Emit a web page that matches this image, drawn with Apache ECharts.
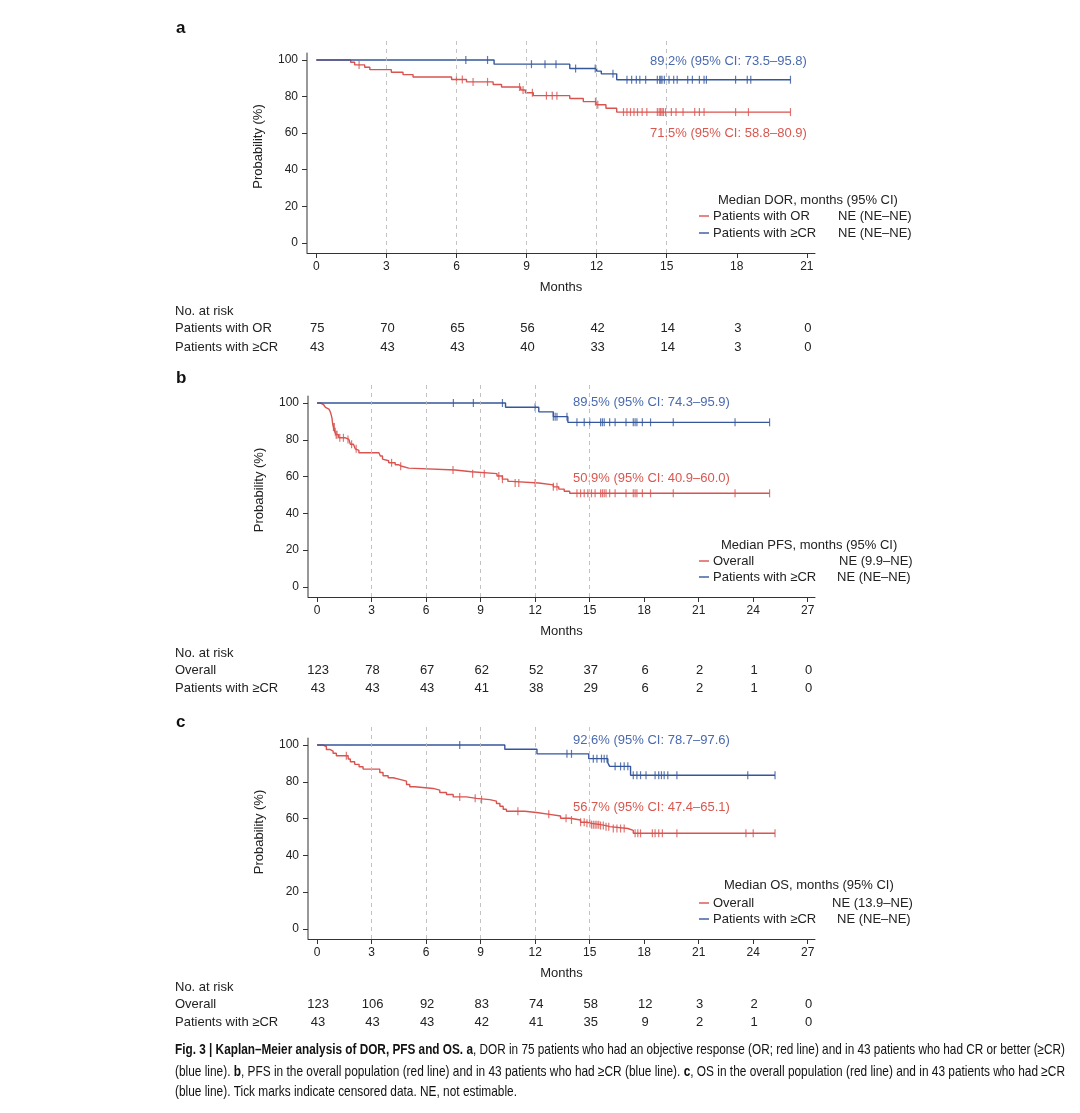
<!DOCTYPE html>
<html><head><meta charset="utf-8">
<script src="https://cdn.jsdelivr.net/npm/echarts@6/dist/echarts.min.js"></script>
<style>html,body{margin:0;padding:0;background:#fff}#c{width:1080px;height:1113px}</style>
</head><body><div id="c"></div>
<script>
// ---------------- DATA ----------------
const probTicks = [0, 20, 40, 60, 80, 100];
const monthsA = [0, 3, 6, 9, 12, 15, 18, 21];
const monthsBC = [0, 3, 6, 9, 12, 15, 18, 21, 24, 27];
const dashedMonths = [3, 6, 9, 12, 15];

// Panel a: DOR
const aRedT = [0, 1.47, 1.64, 2.07, 2.29, 3.21, 3.71, 4.14, 5.79, 6.43, 7.57, 7.93, 8.75, 8.95, 9.29, 10.85, 11.43, 11.98, 12.4, 12.86, 20.3];
const aRedS = [100, 98.7, 97.3, 96.0, 94.7, 93.3, 92.0, 90.7, 89.3, 88.0, 86.6, 85.2, 83.6, 82.1, 80.5, 78.9, 77.2, 75.5, 73.6, 71.5, 71.5];
const aRedCens = [1.83, 6.0, 6.25, 6.71, 7.33, 8.7, 8.85, 9.25, 9.85, 10.1, 10.3, 11.95, 12.05, 13.15, 13.3, 13.45, 13.6, 13.75, 13.95, 14.15, 14.6, 14.68, 14.74, 14.8, 14.86, 14.95, 15.2, 15.4, 15.7, 16.2, 16.4, 16.6, 17.95, 18.5, 20.3];
const aBlueT = [0, 7.61, 10.85, 12.0, 12.2, 12.86, 20.3];
const aBlueS = [100, 97.7, 95.3, 93.9, 92.4, 89.2, 89.2];
const aBlueCens = [6.4, 7.33, 9.21, 9.79, 10.26, 11.1, 11.94, 12.7, 13.3, 13.5, 13.7, 13.85, 14.1, 14.6, 14.7, 14.75, 14.8, 14.9, 15.1, 15.3, 15.45, 15.9, 16.1, 16.4, 16.6, 16.7, 17.95, 18.45, 18.6, 20.3];
const aRiskOR = [75, 70, 65, 56, 42, 14, 3, 0];
const aRiskCR = [43, 43, 43, 40, 33, 14, 3, 0];

// Panel b: PFS
const bRedT = [0, 0.2, 0.35, 0.46, 0.55, 0.65, 0.73, 0.78, 0.82, 0.84, 0.86, 0.9, 0.97, 1.05, 1.19, 1.56, 1.75, 1.83, 2.0, 2.1, 2.2, 2.3, 3.4, 3.48, 3.6, 3.66, 3.94, 4.3, 4.5, 4.67, 5.04, 7.6, 8.5, 9.9, 10.2, 10.5, 10.7, 12.2, 13.0, 13.3, 13.6, 13.9, 24.9];
const bRedS = [100, 99.2, 98.4, 97.6, 96.7, 95.9, 95.1, 93.4, 91.8, 90.1, 88.5, 86.9, 84.4, 82.8, 81.1, 80.2, 79.3, 77.6, 76.8, 75.1, 74.3, 73.0, 72.1, 71.2, 69.5, 68.6, 67.5, 66.4, 65.6, 64.6, 63.6, 62.6, 61.6, 60.3, 58.6, 57.4, 56.5, 55.5, 54.4, 53.2, 52.0, 50.9, 50.9];
const bRedCens = [0.9, 0.95, 1.0, 1.05, 1.1, 1.25, 1.45, 1.7, 1.9, 2.15, 4.1, 4.6, 7.48, 8.56, 9.2, 10.0, 10.2, 10.9, 11.1, 12.0, 13.0, 13.2, 14.3, 14.5, 14.7, 14.9, 15.1, 15.3, 15.6, 15.7, 15.8, 15.9, 16.1, 16.4, 17.0, 17.4, 17.5, 17.6, 17.9, 18.35, 19.6, 23.0, 24.9];
const bBlueT = [0, 10.37, 12.2, 13.0, 13.8, 24.9];
const bBlueS = [100, 97.7, 95.2, 92.6, 89.5, 89.5];
const bBlueCens = [7.5, 8.6, 10.2, 12.0, 13.0, 13.1, 13.2, 13.75, 14.3, 14.7, 15.0, 15.6, 15.7, 15.8, 16.1, 16.4, 17.0, 17.4, 17.5, 17.6, 17.9, 18.35, 19.6, 23.0, 24.9];
const bRiskAll = [123, 78, 67, 62, 52, 37, 6, 2, 1, 0];
const bRiskCR = [43, 43, 43, 41, 38, 29, 6, 2, 1, 0];

// Panel c: OS
const cRedT = [0, 0.33, 0.51, 0.7, 0.88, 1.06, 1.71, 1.83, 2.07, 2.31, 2.53, 3.45, 3.63, 3.91, 4.18, 4.55, 4.92, 5.1, 5.38, 6.39, 6.75, 7.12, 7.49, 8.22, 8.77, 9.5, 9.87, 10.06, 10.24, 10.42, 11.43, 12.07, 12.8, 13.4, 13.9, 14.5, 14.85, 15.1, 15.6, 15.9, 16.1, 17.1, 17.4, 25.2];
const cRedS = [100, 99.2, 97.6, 96.7, 95.5, 94.2, 92.4, 90.9, 89.5, 88.2, 86.9, 85.1, 83.3, 82.2, 81.3, 80.4, 78.5, 77.3, 76.4, 75.5, 74.2, 73.1, 71.8, 71.0, 70.3, 69.5, 68.2, 66.7, 65.1, 64.0, 63.3, 62.3, 61.4, 60.2, 59.2, 58.0, 57.4, 56.7, 56.2, 55.6, 54.6, 53.6, 52.0, 52.0];
const cRedCens = [1.61, 7.85, 8.7, 9.05, 11.05, 12.75, 13.7, 14.0, 14.5, 14.7, 14.85, 15.0, 15.1, 15.2, 15.3, 15.4, 15.5, 15.6, 15.75, 15.9, 16.05, 16.3, 16.5, 16.7, 16.9, 17.5, 17.65, 17.8, 18.45, 18.6, 18.8, 19.0, 19.8, 23.6, 24.0, 25.2];
const cBlueT = [0, 10.33, 12.1, 14.95, 16.0, 16.1, 17.25, 25.2];
const cBlueS = [100, 97.7, 95.2, 92.6, 90.3, 88.4, 83.6, 83.6];
const cBlueCens = [7.85, 13.75, 14.0, 15.2, 15.4, 15.65, 15.8, 15.95, 16.4, 16.7, 16.9, 17.1, 17.4, 17.6, 17.8, 18.1, 18.6, 18.8, 18.95, 19.1, 19.3, 19.8, 23.7, 25.2];
const cRiskAll = [123, 106, 92, 83, 74, 58, 12, 3, 2, 0];
const cRiskCR = [43, 43, 43, 42, 41, 35, 9, 2, 1, 0];

// ---------------- STYLE / LAYOUT ----------------
const FONT = '"Liberation Sans", Arial, sans-serif';
const RED = '#d9534f', BLUE = '#34579c';
const RED_TXT = '#d9574f', BLUE_TXT = '#4a6aae';
const AX = '#333', TXT = '#222';

const panels = [
  { grid: {left: 307, top: 40, width: 508, height: 213}, xMin: -0.4, xMax: 21.35, months: monthsA,
    redT: aRedT, redS: aRedS, redC: aRedCens, blueT: aBlueT, blueS: aBlueS, blueC: aBlueCens,
    risk: [aRiskOR, aRiskCR], riskNames: ['Patients with OR', 'Patients with ≥CR'], riskY: [311, 328, 347],
    letter: 'a', letterY: 28,
    ann: [{t: '89.2% (95% CI: 73.5–95.8)', x: 650, y: 61, c: BLUE_TXT}, {t: '71.5% (95% CI: 58.8–80.9)', x: 650, y: 133, c: RED_TXT}],
    leg: {title: 'Median DOR, months (95% CI)', tx: 718, ty: 200, rows: [['Patients with OR', 'NE (NE–NE)', 838, 216, RED], ['Patients with ≥CR', 'NE (NE–NE)', 838, 233, BLUE]]} },
  { grid: {left: 308, top: 383, width: 507, height: 214}, xMin: -0.5, xMax: 27.4, months: monthsBC,
    redT: bRedT, redS: bRedS, redC: bRedCens, blueT: bBlueT, blueS: bBlueS, blueC: bBlueCens,
    risk: [bRiskAll, bRiskCR], riskNames: ['Overall', 'Patients with ≥CR'], riskY: [653, 670, 688],
    letter: 'b', letterY: 378,
    ann: [{t: '89.5% (95% CI: 74.3–95.9)', x: 573, y: 402, c: BLUE_TXT}, {t: '50.9% (95% CI: 40.9–60.0)', x: 573, y: 478, c: RED_TXT}],
    leg: {title: 'Median PFS, months (95% CI)', tx: 721, ty: 545, rows: [['Overall', 'NE (9.9–NE)', 839, 561, RED], ['Patients with ≥CR', 'NE (NE–NE)', 837, 577, BLUE]]} },
  { grid: {left: 308, top: 725, width: 507, height: 214}, xMin: -0.5, xMax: 27.4, months: monthsBC,
    redT: cRedT, redS: cRedS, redC: cRedCens, blueT: cBlueT, blueS: cBlueS, blueC: cBlueCens,
    risk: [cRiskAll, cRiskCR], riskNames: ['Overall', 'Patients with ≥CR'], riskY: [987, 1004, 1022],
    letter: 'c', letterY: 722,
    ann: [{t: '92.6% (95% CI: 78.7–97.6)', x: 573, y: 740, c: BLUE_TXT}, {t: '56.7% (95% CI: 47.4–65.1)', x: 573, y: 807, c: RED_TXT}],
    leg: {title: 'Median OS, months (95% CI)', tx: 724, ty: 885, rows: [['Overall', 'NE (13.9–NE)', 832, 903, RED], ['Patients with ≥CR', 'NE (NE–NE)', 837, 919, BLUE]]} }
];
const Y_MIN = -5.5, Y_MAX = 110.9, Y_AXIS_TOP = 104;

function survAt(T, S, t) {
  let v = S[0];
  for (let i = 0; i < T.length; i++) { if (T[i] <= t + 1e-9) v = S[i]; else break; }
  return v;
}

const chart = echarts.init(document.getElementById('c'), null, {renderer: 'canvas'});
const grids = [], xAxes = [], yAxes = [], series = [];
panels.forEach((p, i) => {
  grids.push(Object.assign({containLabel: false}, p.grid));
  xAxes.push({
    type: 'value', gridIndex: i, min: p.xMin, max: p.xMax, position: 'bottom',
    axisLine: {show: true, onZero: false, lineStyle: {color: AX, width: 1}},
    axisTick: {show: true, customValues: p.months, length: 5, lineStyle: {color: AX}},
    axisLabel: {customValues: p.months, margin: 8, fontSize: 12, color: TXT, fontFamily: FONT},
    splitLine: {show: false},
    name: 'Months', nameLocation: 'middle', nameGap: 28,
    nameTextStyle: {fontSize: 13, color: TXT, fontFamily: FONT}
  });
  yAxes.push({
    type: 'value', gridIndex: i, min: Y_MIN, max: Y_MAX, position: 'left',
    axisLine: {show: false, onZero: false},
    axisTick: {show: true, customValues: probTicks, length: 5, lineStyle: {color: AX}},
    axisLabel: {customValues: probTicks, margin: 9, fontSize: 12, color: TXT, fontFamily: FONT},
    splitLine: {show: false},
    name: 'Probability (%)', nameLocation: 'middle', nameGap: 42, nameRotate: 90,
    nameTextStyle: {fontSize: 13, color: TXT, fontFamily: FONT}
  });
  const mk = (T, S) => T.map((t, k) => [t, S[k]]);
  series.push({
    type: 'line', xAxisIndex: i, yAxisIndex: i, step: 'end', data: mk(p.redT, p.redS),
    showSymbol: false, lineStyle: {color: RED, width: 1.4}, itemStyle: {color: RED}, animation: false, silent: true,
    markLine: {silent: true, symbol: 'none', label: {show: false}, animation: false,
      lineStyle: {type: [4, 4], color: '#bdbdbd', width: 0.9},
      data: dashedMonths.map(m => ({xAxis: m}))}
  });
  series.push({
    type: 'scatter', xAxisIndex: i, yAxisIndex: i, data: p.redC.map(t => [t, survAt(p.redT, p.redS, t)]),
    symbol: 'rect', symbolSize: [1.2, 8], itemStyle: {color: RED}, animation: false, silent: true
  });
  series.push({
    type: 'line', xAxisIndex: i, yAxisIndex: i, step: 'end', data: mk(p.blueT, p.blueS),
    showSymbol: false, lineStyle: {color: BLUE, width: 1.4}, itemStyle: {color: BLUE}, animation: false, silent: true
  });
  series.push({
    type: 'scatter', xAxisIndex: i, yAxisIndex: i, data: p.blueC.map(t => [t, survAt(p.blueT, p.blueS, t)]),
    symbol: 'rect', symbolSize: [1.2, 8], itemStyle: {color: BLUE}, animation: false, silent: true
  });
});

chart.setOption({animation: false, backgroundColor: '#fff', grid: grids, xAxis: xAxes, yAxis: yAxes, series: series});

// ---------------- GRAPHICS (text, legends, risk tables, caption) ----------------
const G = [];
function txt(t, x, y, o) {
  o = o || {};
  G.push({type: 'text', x: x, y: y, silent: true, style: {
    text: t, fill: o.color || TXT, font: (o.bold ? 'bold ' : '') + (o.size || 13) + 'px ' + FONT,
    align: o.align || 'left', verticalAlign: 'middle'}});
}
panels.forEach((p, i) => {
  txt(p.letter, 176, p.letterY, {bold: true, size: 17, color: '#111'});
  // y axis line
  const x0 = chart.convertToPixel({xAxisIndex: i}, p.xMin);
  const yb = chart.convertToPixel({yAxisIndex: i}, Y_MIN);
  const yt = chart.convertToPixel({yAxisIndex: i}, Y_AXIS_TOP);
  G.push({type: 'line', silent: true, shape: {x1: x0, y1: yb, x2: x0, y2: yt}, style: {stroke: AX, lineWidth: 1}});
  // annotations
  p.ann.forEach(a => txt(a.t, a.x, a.y, {color: a.c}));
  // legend
  txt(p.leg.title, p.leg.tx, p.leg.ty);
  p.leg.rows.forEach(r => {
    G.push({type: 'line', silent: true, shape: {x1: 699, y1: r[3], x2: 709, y2: r[3]}, style: {stroke: r[4], lineWidth: 1.4}});
    txt(r[0], 713, r[3]);
    txt(r[1], r[2], r[3]);
  });
  // risk table
  txt('No. at risk', 175, p.riskY[0]);
  p.risk.forEach((row, k) => {
    txt(p.riskNames[k], 175, p.riskY[k + 1]);
    row.forEach((v, j) => {
      const px = chart.convertToPixel({xAxisIndex: i}, p.months[j]);
      txt(String(v), px + 1, p.riskY[k + 1], {align: 'center'});
    });
  });
});

// caption
const captionLines = [
  [['Fig. 3 | Kaplan–Meier analysis of DOR, PFS and OS. ', 1], ['a', 1], [', DOR in 75 patients who had an objective response (OR; red line) and in 43 patients who had CR or better (≥CR)', 0]],
  [['(blue line). ', 0], ['b', 1], [', PFS in the overall population (red line) and in 43 patients who had ≥CR (blue line). ', 0], ['c', 1], [', OS in the overall population (red line) and in 43 patients who had ≥CR', 0]],
  [['(blue line). Tick marks indicate censored data. NE, not estimable.', 0]]
];
const capY = [1050, 1072, 1092];
const CAP_SIZE = 14.5;
const ctx = document.createElement('canvas').getContext('2d');
function meas(t, b) { ctx.font = (b ? 'bold ' : '') + CAP_SIZE + 'px "Liberation Sans"'; return ctx.measureText(t).width; }
const widths = captionLines.map(l => l.reduce((s, seg) => s + meas(seg[0], seg[1]), 0));
const scales = [890 / widths[0], 890 / widths[1]];
scales.push(scales[1]);
captionLines.forEach((line, li) => {
  let off = 0;
  const children = [];
  line.forEach(seg => {
    children.push({type: 'text', x: off, y: 0, silent: true, style: {
      text: seg[0], fill: '#111', font: (seg[1] ? 'bold ' : '') + CAP_SIZE + 'px ' + FONT,
      align: 'left', verticalAlign: 'middle'}});
    off += meas(seg[0], seg[1]);
  });
  G.push({type: 'group', x: 175, y: capY[li], scaleX: scales[li], scaleY: 1, silent: true, children: children});
});

chart.setOption({graphic: {elements: G}});
</script></body></html>
